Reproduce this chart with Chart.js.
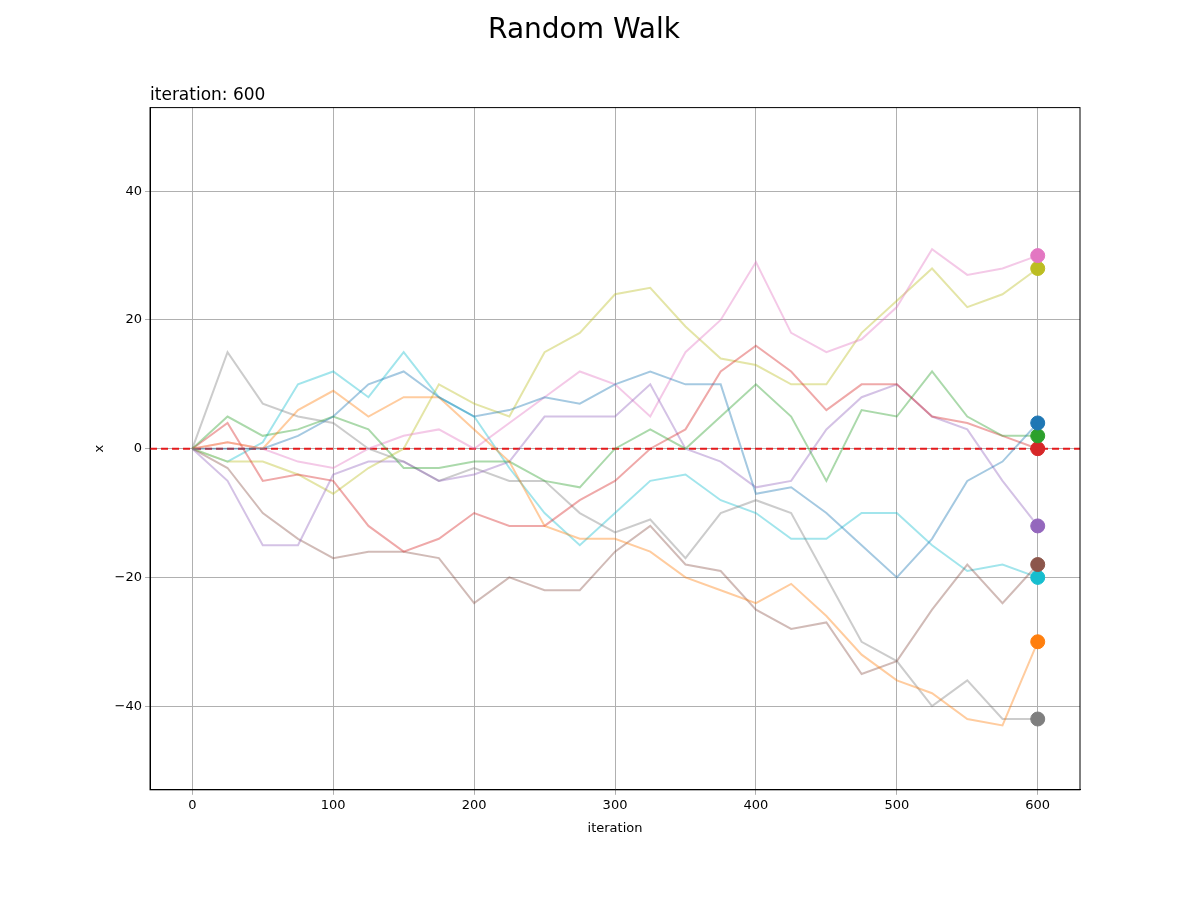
<!DOCTYPE html>
<html>
<head>
<meta charset="utf-8">
<script src="https://cdn.jsdelivr.net/npm/chart.js@4/dist/chart.umd.min.js"></script>
<style>
  body { margin: 0; background: #fff; }
  #wrap { width: 1200px; height: 900px; }
</style>
</head>
<body>
<div id="wrap"><canvas id="walk"></canvas></div>
<script>
// sample positions (iteration) and walker values
const iterations = [0, 25, 50, 75, 100, 125, 150, 175, 200, 225, 250, 275, 300, 325, 350, 375, 400, 425, 450, 475, 500, 525, 550, 575, 600];
const walkBlue   = [0, 0, 0, 2, 5, 10, 12, 8, 5, 6, 8, 7, 10, 12, 10, 10, -7, -6, -10, -15, -20, -14, -5, -2, 4];
const walkOrange = [0, 1, 0, 6, 9, 5, 8, 8, 3, -2, -12, -14, -14, -16, -20, -22, -24, -21, -26, -32, -36, -38, -42, -43, -30];
const walkGreen  = [0, 5, 2, 3, 5, 3, -3, -3, -2, -2, -5, -6, 0, 3, 0, 5, 10, 5, -5, 6, 5, 12, 5, 2, 2];
const walkRed    = [0, 4, -5, -4, -5, -12, -16, -14, -10, -12, -12, -8, -5, 0, 3, 12, 16, 12, 6, 10, 10, 5, 4, 2, 0];
const walkPurple = [0, -5, -15, -15, -4, -2, -2, -5, -4, -2, 5, 5, 5, 10, 0, -2, -6, -5, 3, 8, 10, 5, 3, -5, -12];
const walkBrown  = [0, -3, -10, -14, -17, -16, -16, -17, -24, -20, -22, -22, -16, -12, -18, -19, -25, -28, -27, -35, -33, -25, -18, -24, -18];
const walkPink   = [0, 1, 0, -2, -3, 0, 2, 3, 0, 4, 8, 12, 10, 5, 15, 20, 29, 18, 15, 17, 22, 31, 27, 28, 30];
const walkGray   = [0, 15, 7, 5, 4, 0, -2, -5, -3, -5, -5, -10, -13, -11, -17, -10, -8, -10, -20, -30, -33, -40, -36, -42, -42];
const walkOlive  = [0, -2, -2, -4, -7, -3, 0, 10, 7, 5, 15, 18, 24, 25, 19, 14, 13, 10, 10, 18, 23, 28, 22, 24, 28];
const walkCyan   = [0, -2, 1, 10, 12, 8, 15, 8, 5, -3, -10, -15, -10, -5, -4, -8, -10, -14, -14, -10, -10, -15, -19, -18, -20];
const xTicks = [0, 100, 200, 300, 400, 500, 600];
const yTicks = [-40, -20, 0, 20, 40];

const walks = [walkBlue, walkOrange, walkGreen, walkRed, walkPurple, walkBrown, walkPink, walkGray, walkOlive, walkCyan];
const colors = ["#1f77b4", "#ff7f0e", "#2ca02c", "#d62728", "#9467bd", "#8c564b", "#e377c2", "#7f7f7f", "#bcbd22", "#17becf"];

function alpha(hex, a) {
    const n = parseInt(hex.slice(1), 16);
    return `rgba(${n >> 16}, ${(n >> 8) & 255}, ${n & 255}, ${a})`;
}

const lineSets = walks.map((w, i) => ({
    type: "line",
    data: w.map((v, j) => ({ x: iterations[j], y: v })),
    borderColor: alpha(colors[i], 0.4),
    borderWidth: 2,
    pointRadius: 0,
    tension: 0
}));
const dotSets = walks.map((w, i) => ({
    type: "scatter",
    data: [{ x: iterations[iterations.length - 1], y: w[w.length - 1] }],
    backgroundColor: colors[i],
    borderColor: colors[i],
    pointRadius: 7
}));

const zeroLine = {
    id: "zeroLine",
    beforeDatasetsDraw(chart) {
        const { ctx, chartArea, scales } = chart;
        const y = scales.y.getPixelForValue(0);
        ctx.save();
        ctx.strokeStyle = "#e41a1c";
        ctx.lineWidth = 2;
        ctx.setLineDash([7, 4]);
        ctx.beginPath();
        ctx.moveTo(chartArea.left, y);
        ctx.lineTo(chartArea.right, y);
        ctx.stroke();
        ctx.restore();
    }
};

// frame round the plot plus the "iteration: 600" label over its left edge
const frame = {
    id: "frame",
    afterDraw(chart) {
        const { ctx, chartArea: a } = chart;
        ctx.save();
        ctx.strokeStyle = "#000";
        ctx.lineWidth = 1;
        ctx.strokeRect(a.left, a.top, a.right - a.left, a.bottom - a.top);
        ctx.fillStyle = "#000";
        ctx.font = "17px 'DejaVu Sans'";
        ctx.textAlign = "left";
        ctx.textBaseline = "bottom";
        ctx.fillText("iteration: 600", a.left, a.top - 4);
        ctx.restore();
    }
};

const tickFont = { family: "DejaVu Sans", size: 13 };

new Chart(document.getElementById("walk"), {
    data: { datasets: [...lineSets, ...dotSets] },
    plugins: [zeroLine, frame],
    options: {
        responsive: true,
        maintainAspectRatio: false,
        animation: false,
        layout: { padding: { left: 88, right: 120, top: 0, bottom: 60 } },
        plugins: {
            legend: { display: false },
            tooltip: { enabled: false },
            title: {
                display: true, text: "Random Walk", color: "#000",
                font: { family: "DejaVu Sans", size: 28, weight: "normal" },
                padding: { top: 14, bottom: 60 }
            }
        },
        scales: {
            x: {
                type: "linear", min: -30, max: 630,
                afterBuildTicks: s => { s.ticks = xTicks.map(v => ({ value: v })); },
                ticks: { color: "#000", font: tickFont },
                grid: { color: "#b0b0b0", tickLength: 5 },
                border: { color: "#000", width: 1 },
                title: { display: true, text: "iteration", color: "#000", font: tickFont }
            },
            y: {
                min: -53, max: 53,
                afterBuildTicks: s => { s.ticks = yTicks.map(v => ({ value: v })); },
                ticks: { color: "#000", font: tickFont, callback: v => String(v).replace("-", "\u2212") },
                grid: { color: "#b0b0b0", tickLength: 5 },
                border: { color: "#000", width: 1 },
                title: { display: true, text: "x", color: "#000", font: tickFont }
            }
        }
    }
});
</script>
</body>
</html>
